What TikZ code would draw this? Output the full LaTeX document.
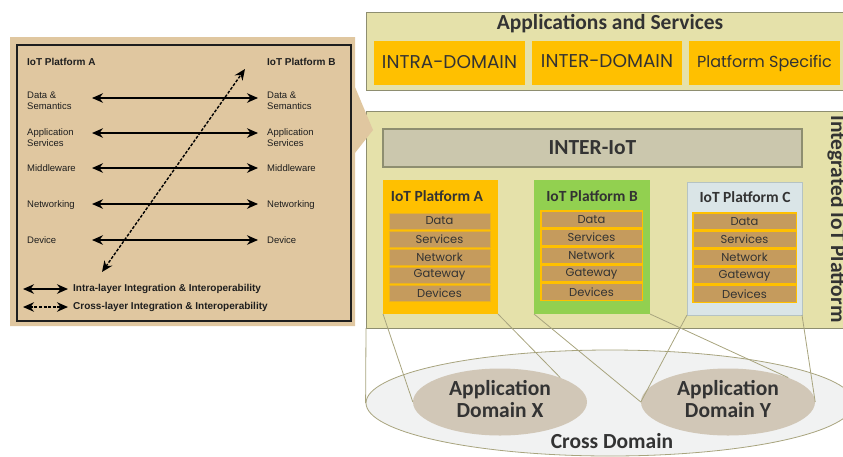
\documentclass[tikz,border=0pt]{standalone}
\usepackage{fontspec}
\setmainfont{Liberation Sans}
\newfontfamily\calfont{Carlito}
\newfontfamily\gothfont{Poppins}
\usetikzlibrary{shapes.geometric,arrows.meta}
\definecolor{calltan}{HTML}{E0C7A0}
\definecolor{khaki}{HTML}{E5E1AA}
\definecolor{khakiline}{HTML}{8E8E70}
\definecolor{orng}{HTML}{FFC000}
\definecolor{grn}{HTML}{92D050}
\definecolor{pblue}{HTML}{DAE5E7}
\definecolor{pblueline}{HTML}{B5C3C3}
\definecolor{layer}{HTML}{C59B5D}
\definecolor{interfill}{HTML}{CBC7AD}
\definecolor{domfill}{HTML}{D1C7B7}
\definecolor{crossfill}{HTML}{F1F2F2}
\definecolor{olive}{HTML}{A8A47E}
\definecolor{darktxt}{HTML}{333333}
\definecolor{lefttext}{HTML}{1E1E1E}
\begin{document}
\begin{tikzpicture}[x=1pt,y=-1pt,
  box/.style={rectangle,inner sep=0pt,outer sep=0pt},
  lefttxt/.style={anchor=west,inner sep=0pt,align=left,text=lefttext,font=\fontsize{9.5}{11}\selectfont},
  lefthead/.style={anchor=west,inner sep=0pt,text=lefttext,font=\bfseries\fontsize{10}{11}\selectfont},
  intra/.style={line width=1.6pt,{Stealth[length=11pt,width=9.5pt]}-{Stealth[length=11pt,width=9.5pt]}},
  crossarrow/.style={line width=1.4pt,dash pattern=on 3pt off 1.6pt,{Stealth[length=11pt,width=9.5pt]}-{Stealth[length=11pt,width=9.5pt]}},
  bigtxt/.style={font=\calfont\bfseries\fontsize{21.5}{22}\selectfont,text=darktxt,align=center,inner sep=0pt},
  ptitle/.style={font=\calfont\bfseries\fontsize{15.5}{16}\selectfont,text=darktxt,inner sep=0pt},
  goth/.style={font=\gothfont\fontsize{18.5}{20}\selectfont,text=darktxt},
  layertxt/.style={font=\gothfont\fontsize{11.5}{12}\selectfont,text=darktxt},
  layerA/.style={box,layertxt,fill=layer,draw=orng!60!layer,line width=0.6pt,minimum width=101pt,minimum height=16pt},
  layerB/.style={box,layertxt,fill=layer,draw=orng,line width=1.5pt,minimum width=101.5pt,minimum height=16.7pt},
  layerC/.style={box,layertxt,fill=layer,draw=orng,line width=1.5pt,minimum width=103.5pt,minimum height=16.7pt},
  wire/.style={draw=olive,line width=0.8pt},
  appdomain/.style={ellipse,fill=domfill,inner sep=0pt,minimum width=174pt,minimum height=67pt},
]
\useasboundingbox (0,0) rectangle (843,456);

% ---------- right side ----------
\node[ellipse,fill=crossfill,draw=olive,line width=0.8pt,minimum width=488pt,minimum height=106pt,inner sep=0pt] (cd) at (610,403) {};
\node[bigtxt] (cdt) at (612,441) {Cross Domain};

\node[box,fill=khaki,draw=khakiline,line width=1pt,minimum width=484pt,minimum height=78pt] (apps) at (608,51) {};
\node[bigtxt] (appst) at (610,24) {Applications and Services};
\node[box,goth,fill=orng,minimum width=151pt,minimum height=44pt] (intra) at (449.5,63) {\raisebox{2pt}{INTRA-DOMAIN}};
\node[box,goth,fill=orng,minimum width=150pt,minimum height=44pt] (inter) at (607,63) {\raisebox{4pt}{INTER-DOMAIN}};
\node[box,goth,fill=orng,minimum width=151pt,minimum height=44pt,font=\gothfont\fontsize{16}{18}\selectfont] (pspec) at (764.5,63) {\raisebox{1pt}{Platform Specific}};

\node[box,fill=khaki,draw=khakiline,line width=1pt,minimum width=484pt,minimum height=217pt] (ip) at (608,219.5) {};
\node[bigtxt,rotate=-90,anchor=base] (ipt) at (831,219) {Integrated IoT Platform};
\node[box,bigtxt,fill=interfill,draw=khakiline,line width=1.2pt,minimum width=419pt,minimum height=38pt] (iiot) at (592.5,148) {INTER-IoT};

\node[box,fill=orng,minimum width=115pt,minimum height=134pt] (pa) at (440.5,247) {};
\node[box,fill=grn,minimum width=116pt,minimum height=134pt] (pb) at (592,247) {};
\node[box,fill=pblue,draw=pblueline,line width=1pt,minimum width=115pt,minimum height=133pt] (pc) at (744.5,248.5) {};
\node[ptitle] (pat) at (437,196) {IoT Platform A};
\node[ptitle] (pbt) at (592,196) {IoT Platform B};
\node[ptitle] (pct) at (745,197) {IoT Platform C};

\foreach \t [count=\i from 0] in {Data,Services,Network,Gateway,Devices}{
  \node[layerA] (la\i) at (439.5,221+18*\i) {\t};
  \node[layerB] (lb\i) at (591.5,219.1+18.2*\i) {\t};
  \node[layerC] (lc\i) at (744.5,221.1+18.2*\i) {\t};
}

\node[appdomain] (dx) at (500,402) {};
\node[appdomain] (dy) at (728,402) {};
\node[bigtxt] (dxt) at (500,399) {Application\\Domain X};
\node[bigtxt] (dyt) at (728,399) {Application\\Domain Y};

\draw[wire] (ip.south west) -- (cd.west);
\draw[wire] (pa.south west) -- (dx.west);
\draw[wire] (pa.south east) -- (dx.22);
\draw[wire] (pb.south west) -- (dy.west);
\draw[wire] (pb.south east) -- (dy.22);
\draw[wire] (pc.south west) -- (dy.west);
\draw[wire] (pc.south east) -- (dy.east);

% ---------- left callout ----------
\fill[calltan] (10,37) -- (355,37) -- (355,87) -- (373,130) -- (355,153) -- (355,326) -- (10,326) -- cycle;
\draw[line width=1.2pt,lefttext] (17,45) rectangle (351,321);

\node[lefthead] (ha) at (27,62) {IoT Platform A};
\node[lefthead] (hb) at (267,62) {IoT Platform B};

\node[lefttxt] (a1) at (27,100.5) {Data \&\\Semantics};
\node[lefttxt] (a2) at (27,137.5) {Application\\Services};
\node[lefttxt] (a3) at (27,168) {Middleware};
\node[lefttxt] (a4) at (27,205) {Networking};
\node[lefttxt] (a5) at (27,240.5) {Device};
\node[lefttxt] (b1) at (267,100.5) {Data \&\\Semantics};
\node[lefttxt] (b2) at (267,137.5) {Application\\Services};
\node[lefttxt] (b3) at (267,168) {Middleware};
\node[lefttxt] (b4) at (267,205) {Networking};
\node[lefttxt] (b5) at (267,240.5) {Device};

\coordinate (l1) at (92,98);   \coordinate (r1) at (258,98);
\coordinate (l2) at (92,133);  \coordinate (r2) at (258,133);
\coordinate (l3) at (92,168);  \coordinate (r3) at (258,168);
\coordinate (l4) at (92,204);  \coordinate (r4) at (258,204);
\coordinate (l5) at (92,240);  \coordinate (r5) at (258,240);
\foreach \i in {1,...,5}{\draw[intra] (l\i) -- (r\i);}

\coordinate (dlo) at (102,272);
\coordinate (dhi) at (245,69);
\draw[crossarrow] (dlo) -- (dhi);

\coordinate (g1a) at (23,289); \coordinate (g1b) at (68,289);
\coordinate (g2a) at (23,307); \coordinate (g2b) at (68,307);
\draw[intra] (g1a) -- (g1b);
\draw[crossarrow] (g2a) -- (g2b);
\node[lefthead] (lg1) at (73,289) {Intra-layer Integration \& Interoperability};
\node[lefthead] (lg2) at (73,307) {Cross-layer Integration \& Interoperability};
\end{tikzpicture}
\end{document}
